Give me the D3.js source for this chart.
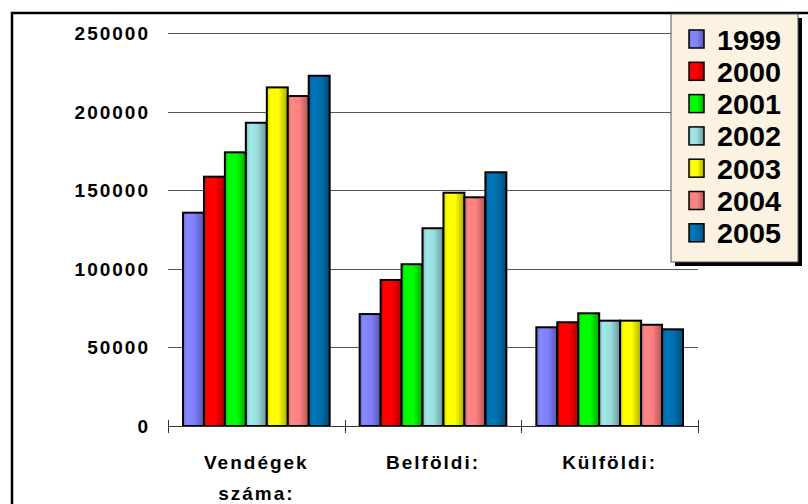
<!DOCTYPE html>
<html>
<head>
<meta charset="utf-8">
<script src="https://cdn.jsdelivr.net/npm/d3@7"></script>
<style>
    body { margin: 0; background: #fff; }
    .tick-label { font-family: "Liberation Sans", Arial, sans-serif; font-weight: bold; font-size: 19px; letter-spacing: 2px; fill: #000; }
    .legend text { font-family: "Liberation Sans", Arial, sans-serif; font-weight: bold; font-size: 28.5px; fill: #000; }
</style>
</head>
<body>
<div id="chart"></div>
<script>
var width = 808;
var height = 504;

// data
var categories = ["Vendégek száma:", "Belföldi:", "Külföldi:"];
var years = ["1999", "2000", "2001", "2002", "2003", "2004", "2005"];
var vendegek = [135700, 158600, 174100, 192900, 215400, 209900, 222800];
var belfoldi = [71200, 92900, 102900, 125800, 148400, 145500, 161400];
var kulfoldi = [62800, 66000, 71700, 67000, 67000, 64400, 61500];
var yTicks = [0, 50000, 100000, 150000, 200000, 250000];
var colors = ["#8080ff", "#ff0000", "#00ff00", "#99dddd", "#ffff00", "#ff8080", "#0070b0"];

var series = [vendegek, belfoldi, kulfoldi];

var plot = { left: 168, right: 698, top: 33, bottom: 426 };

var svg = d3.select("#chart")
    .append("svg")
    .attr("width", width)
    .attr("height", height)
    ;

var color = d3.scaleOrdinal()
    .domain(years)
    .range(colors);

// gradients for the shaded bars
var defs = svg.append("defs");
years.forEach(function (yr) {
    var c = d3.color(color(yr));
    var g = defs.append("linearGradient")
        .attr("id", "grad" + yr)
        .attr("x1", "0%").attr("x2", "100%")
        .attr("y1", "0%").attr("y2", "0%");
    g.append("stop").attr("offset", "0%").attr("stop-color", c.darker(0.5));
    g.append("stop").attr("offset", "18%").attr("stop-color", c.brighter(0.15));
    g.append("stop").attr("offset", "55%").attr("stop-color", c);
    g.append("stop").attr("offset", "100%").attr("stop-color", c.darker(1.1));
});

// outer frame
svg.append("rect")
    .attr("x", 12)
    .attr("y", 13)
    .attr("width", width + 20)
    .attr("height", height + 20)
    .attr("fill", "#fff")
    .attr("stroke", "#000")
    .attr("stroke-width", 2.5)
    ;

// scales
var x0 = d3.scaleBand()
    .domain(categories)
    .range([plot.left, plot.right]);

var x1 = d3.scaleBand()
    .domain(years)
    .range([15, x0.bandwidth() - 15]);

var y = d3.scaleLinear()
    .domain([0, 250000])
    .range([plot.bottom, plot.top]);

// grid lines
svg.append("g")
    .attr("class", "grid")
    .selectAll("line")
    .data(yTicks.filter(d => d > 0))
    .join("line")
    .attr("x1", plot.left)
    .attr("x2", plot.right)
    .attr("y1", d => Math.round(y(d)) + 0.5)
    .attr("y2", d => Math.round(y(d)) + 0.5)
    .attr("stroke", "#555")
    .attr("stroke-width", 1)
    ;

// y labels
svg.append("g")
    .selectAll("text")
    .data(yTicks)
    .join("text")
    .attr("class", "tick-label")
    .attr("x", 150)
    .attr("y", d => y(d) + 7)
    .attr("text-anchor", "end")
    .text(d => d)
    ;

// bars
var groups = svg.append("g")
    .selectAll("g")
    .data(categories)
    .join("g")
    .attr("transform", d => "translate(" + x0(d) + ",0)");

groups.selectAll("rect")
    .data((d, i) => series[i].map((v, j) => ({ year: years[j], value: v })))
    .join("rect")
    .attr("x", d => x1(d.year))
    .attr("y", d => y(d.value))
    .attr("width", x1.bandwidth())
    .attr("height", d => y(0) - y(d.value))
    .attr("fill", d => "url(#grad" + d.year + ")")
    .attr("stroke", "#000")
    .attr("stroke-width", 2)
    ;

// x axis
var xAxis = svg.append("g").attr("class", "x-axis");
xAxis.append("line")
    .attr("x1", plot.left)
    .attr("x2", plot.right)
    .attr("y1", plot.bottom + 0.5)
    .attr("y2", plot.bottom + 0.5)
    .attr("stroke", "#333");
xAxis.selectAll(".xtick")
    .data(categories.map(d => x0(d)).concat([plot.right]))
    .join("line")
    .attr("class", "xtick")
    .attr("x1", d => Math.round(d) + 0.5)
    .attr("x2", d => Math.round(d) + 0.5)
    .attr("y1", plot.bottom - 6)
    .attr("y2", plot.bottom + 7)
    .attr("stroke", "#333");

// category labels
var catLabels = svg.append("g")
    .selectAll("text")
    .data(categories)
    .join("text")
    .attr("class", "tick-label")
    .attr("text-anchor", "middle")
    .attr("transform", d => "translate(" + (x0(d) + x0.bandwidth() / 2) + ",469)");
catLabels.selectAll("tspan")
    .data(d => d.split(" "))
    .join("tspan")
    .attr("x", 0)
    .attr("y", (d, i) => i * 31)
    .text(d => d);

// legend
var legend = svg.append("g")
    .attr("class", "legend")
    .attr("transform", "translate(671,14)");

legend.append("rect")
    .attr("x", 4)
    .attr("y", 4)
    .attr("width", 127)
    .attr("height", 248)
    .attr("fill", "#000");
legend.append("rect")
    .attr("width", 127)
    .attr("height", 248)
    .attr("fill", "#fbf2e2")
    .attr("stroke", "#555")
    .attr("stroke-width", 1);

var items = legend.selectAll(".item")
    .data(years)
    .join("g")
    .attr("class", "item")
    .attr("transform", (d, i) => "translate(0," + (25 + i * 32.3) + ")");

items.append("rect")
    .attr("x", 18)
    .attr("y", -9)
    .attr("width", 15)
    .attr("height", 18)
    .attr("fill", d => "url(#grad" + d + ")")
    .attr("stroke", "#000")
    .attr("stroke-width", 1.5);

items.append("text")
    .attr("x", 46)
    .attr("y", 10.5)
    .attr("textLength", 64)
    .attr("lengthAdjust", "spacingAndGlyphs")
    .text(d => d);
</script>
</body>
</html>
